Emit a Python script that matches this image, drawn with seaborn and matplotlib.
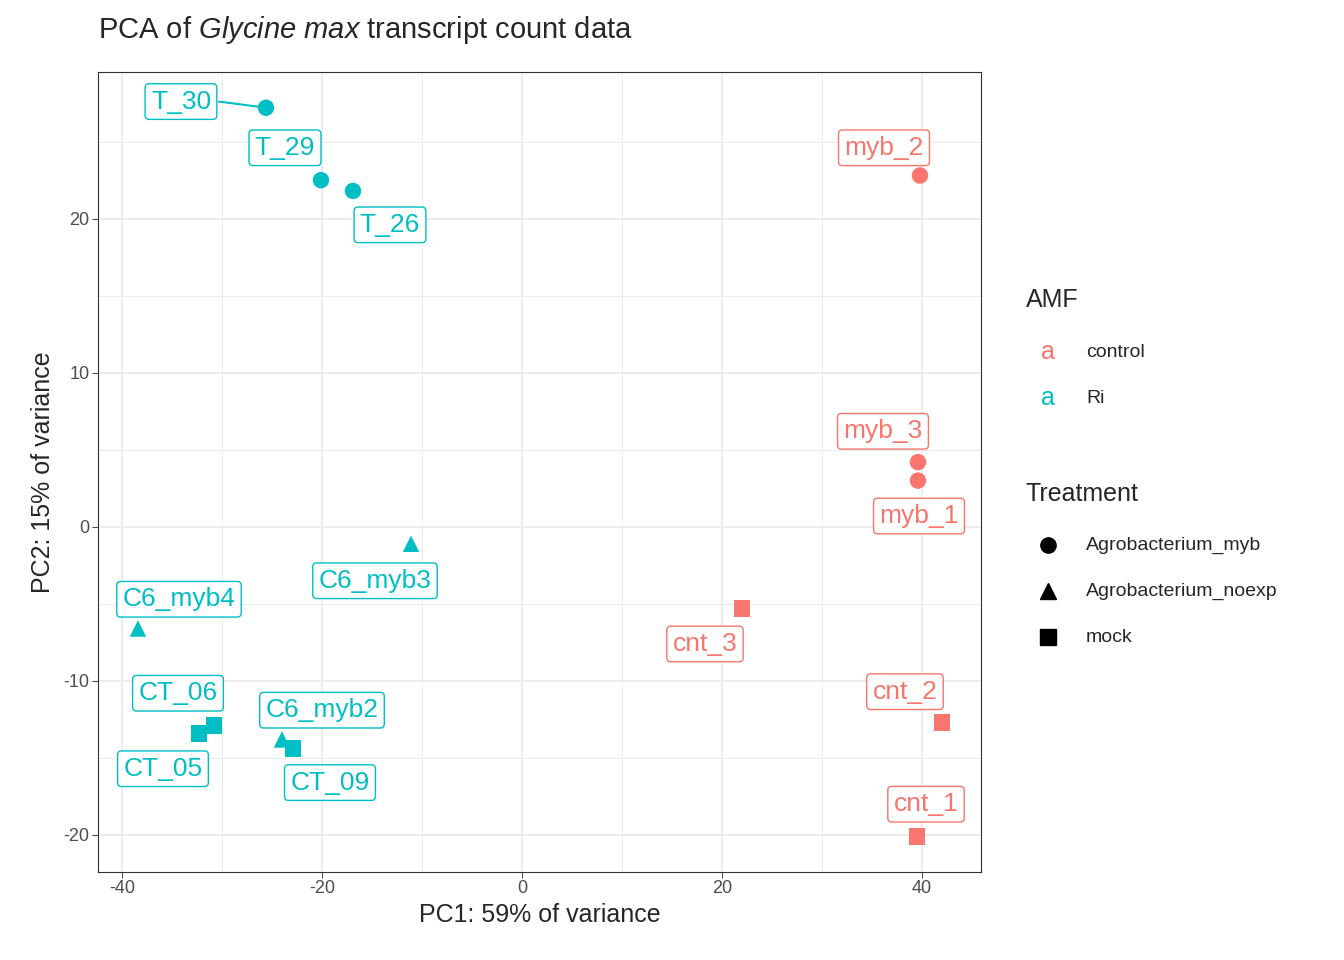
import matplotlib
matplotlib.use("Agg")
import matplotlib.pyplot as plt
import seaborn as sns
import pandas as pd

samples = ["T_30", "T_29", "T_26", "myb_2", "myb_3", "myb_1", "C6_myb3", "cnt_3",
           "C6_myb4", "cnt_2", "CT_06", "CT_05", "C6_myb2", "CT_09", "cnt_1"]
pc1 = [-25.6, -20.1, -16.9, 39.8, 39.6, 39.6, -11.1, 22.0, -38.4, 42.0, -30.8, -32.3, -24.0, -22.9, 39.5]
pc2 = [27.2, 22.5, 21.8, 22.8, 4.2, 3.0, -1.1, -5.3, -6.6, -12.7, -12.9, -13.4, -13.8, -14.4, -20.1]
amf = ["Ri", "Ri", "Ri", "control", "control", "control", "Ri", "control",
       "Ri", "control", "Ri", "Ri", "Ri", "Ri", "control"]
treatment = ["Agrobacterium_myb"] * 6 + ["Agrobacterium_noexp", "mock", "Agrobacterium_noexp", "mock",
                                         "mock", "mock", "Agrobacterium_noexp", "mock", "mock"]
# repelled label positions
lab_x = [-34.1, -23.7, -13.2, 36.2, 36.1, 39.7, -14.7, 18.3, -34.3, 38.3, -34.4, -35.9, -20.0, -19.2, 40.4]
lab_y = [27.6, 24.6, 19.6, 24.6, 6.2, 0.7, -3.5, -7.6, -4.7, -10.7, -10.8, -15.7, -11.9, -16.6, -18.0]

df = pd.DataFrame({"PC1": pc1, "PC2": pc2, "AMF": amf, "Treatment": treatment, "name": samples})
palette = {"control": "#F8766D", "Ri": "#00BFC4"}
markers = {"Agrobacterium_myb": "o", "Agrobacterium_noexp": "^", "mock": "s"}

sns.set_style("white")
plt.rcParams["font.family"] = ["Liberation Sans", "DejaVu Sans"]
plt.rcParams["mathtext.fontset"] = "custom"
plt.rcParams["mathtext.it"] = "Liberation Sans:italic"
plt.rcParams["mathtext.rm"] = "Liberation Sans"
plt.rcParams["axes.unicode_minus"] = False

fig = plt.figure(figsize=(13.44, 9.6), dpi=100)
ax = fig.add_axes([0.0729, 0.0917, 0.657, 0.833])
sns.scatterplot(data=df, x="PC1", y="PC2", hue="AMF", style="Treatment", palette=palette,
                markers=markers, s=140, edgecolor="none", legend=False, ax=ax, zorder=3)

for i, name in enumerate(samples):
    c = palette[amf[i]]
    if name == "T_30":
        ax.plot([lab_x[i] + 3.8, pc1[i]], [lab_y[i], pc2[i]], color=c, lw=1.5, zorder=2)
    ax.text(lab_x[i], lab_y[i], name, color=c, fontsize=19, ha="center", va="center", zorder=4,
            bbox=dict(boxstyle="round,pad=0.22,rounding_size=0.15", fc="white", ec=c, lw=1))

ax.set_xlim(-42.4, 45.9)
ax.set_ylim(-22.4, 29.5)
ax.set_xticks([-40, -20, 0, 20, 40])
ax.set_yticks([-20, -10, 0, 10, 20])
ax.set_xticks([-30, -10, 10, 30], minor=True)
ax.set_yticks([-15, -5, 5, 15, 25], minor=True)
ax.grid(True, which="major", color="#EBEBEB", lw=1.3)
ax.grid(True, which="minor", color="#EBEBEB", lw=0.7)
ax.set_axisbelow(True)
for sp in ax.spines.values():
    sp.set_color("#333333")
ax.tick_params(axis="both", which="major", labelsize=13, colors="#4D4D4D", length=4,
               left=True, bottom=True, pad=2)
ax.tick_params(which="minor", length=0)
ax.set_xlabel("PC1: 59% of variance", fontsize=18, labelpad=4)
ax.set_ylabel("PC2: 15% of variance", fontsize=18, labelpad=6)
fig.text(0.0729, 0.952, r"PCA of $\it{Glycine\ max}$ transcript count data", fontsize=21, va="bottom")

# legends
fig.text(0.763, 0.688, "AMF", fontsize=18, va="center")
for k, (lab, c) in enumerate(palette.items()):
    y = 0.633 - k * 0.048
    fig.text(0.780, y, "a", color=c, fontsize=18, ha="center", va="center")
    fig.text(0.808, y, lab, fontsize=14, va="center")
fig.text(0.763, 0.485, "Treatment", fontsize=18, va="center")
for k, (lab, m) in enumerate(markers.items()):
    y = 0.432 - k * 0.048
    fig.add_artist(plt.Line2D([0.780], [y], marker=m, color="black", markersize=11,
                              transform=fig.transFigure, linestyle="none"))
    fig.text(0.808, y, lab, fontsize=14, va="center")

fig.savefig("out.png", dpi=100)
